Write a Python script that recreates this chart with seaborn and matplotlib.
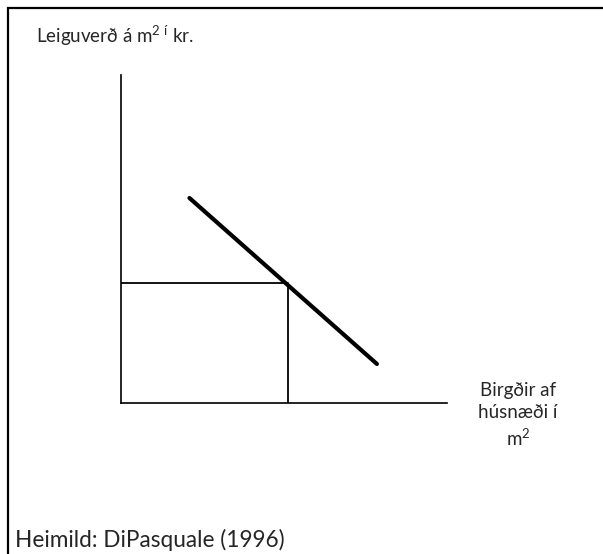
import numpy as np
import pandas as pd
import matplotlib
matplotlib.use("Agg")
import matplotlib.pyplot as plt
import seaborn as sns
from matplotlib.patches import Rectangle

# Demand curve (supply of housing vs rent per m2), schematic units 0-10
demand_x = [2.1, 7.85]
demand_y = [6.25, 1.19]

# Equilibrium point (quantity, price)
eq_x = 5.12
eq_y = 3.66

sns.set_style("white")
plt.rcParams['font.family'] = ['Lato', 'DejaVu Sans']
plt.rcParams['mathtext.fontset'] = 'custom'
plt.rcParams['mathtext.rm'] = 'Lato'
plt.rcParams['mathtext.default'] = 'regular'

W, H = 603, 554
fig = plt.figure(figsize=(W / 100, H / 100), dpi=100)

# axes placed so the origin sits at pixel (121, 403)
ax = fig.add_axes([121 / W, (H - 403) / H, (447 - 121) / W, (403 - 75) / H])
ax.set_xlim(0, 10)
ax.set_ylim(0, 10)

df = pd.DataFrame({'x': demand_x, 'y': demand_y})
sns.lineplot(data=df, x='x', y='y', ax=ax, color='black', linewidth=3.0)

# rectangle under the equilibrium point
ax.plot([0, eq_x, eq_x], [eq_y, eq_y, 0], color='black', linewidth=1.3)

for s in ['top', 'right']:
    ax.spines[s].set_visible(False)
for s in ['left', 'bottom']:
    ax.spines[s].set_linewidth(1.2)
    ax.spines[s].set_color('black')
ax.set_xticks([])
ax.set_yticks([])
ax.set_xlabel('')
ax.set_ylabel('')

# outer frame (clipped on right and bottom)
fig.patches.append(Rectangle((8 / W, -0.1), 1.2, 1 - 8 / H + 0.1,
                             transform=fig.transFigure, fill=False,
                             edgecolor='black', linewidth=1.6))

fig.text(36 / W, 1 - 43 / H, 'Leiguverð á m$^{2\\ í}$ kr.', fontsize=13.5,
         ha='left', va='baseline')
fig.text(518 / W, 1 - 382 / H, 'Birgðir af\nhúsnæði í\nm$^{2}$', fontsize=13.5,
         ha='center', va='top', linespacing=1.35)
fig.text(15 / W, 1 - 547 / H, 'Heimild: DiPasquale (1996)', fontsize=16.3,
         ha='left', va='baseline')

fig.savefig('out.png', dpi=100)
